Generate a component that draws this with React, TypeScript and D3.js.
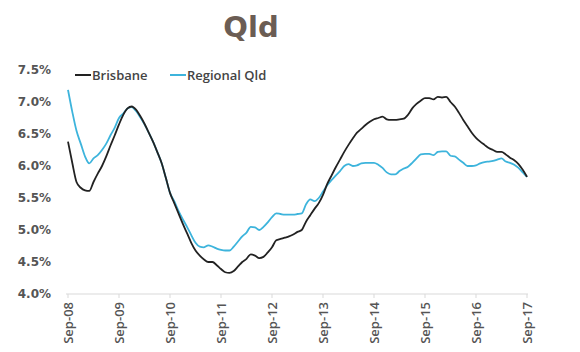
import React, { useEffect, useRef } from 'react';
import * as d3 from 'd3';

// monthly, Sep-08 .. Sep-17
const brisbane = [
  6.38, 6.05, 5.75, 5.66, 5.62, 5.61, 5.75, 5.88, 6.0, 6.15, 6.32, 6.48,
  6.65, 6.8, 6.9, 6.93, 6.88, 6.78, 6.66, 6.52, 6.38, 6.22, 6.05, 5.82,
  5.58, 5.42, 5.26, 5.1, 4.95, 4.8, 4.68, 4.6, 4.54, 4.5, 4.5, 4.45,
  4.39, 4.34, 4.33, 4.36, 4.43, 4.5, 4.55, 4.62, 4.6, 4.56, 4.58, 4.65,
  4.73, 4.84, 4.86, 4.88, 4.9, 4.93, 4.97, 5.0, 5.13, 5.23, 5.33, 5.42,
  5.55, 5.72, 5.85, 5.98, 6.1, 6.22, 6.33, 6.43, 6.52, 6.58, 6.64, 6.69,
  6.73, 6.75, 6.77, 6.73, 6.72, 6.72, 6.73, 6.74, 6.8, 6.9, 6.97, 7.02,
  7.06, 7.06, 7.04, 7.08, 7.07, 7.08, 7.0, 6.93, 6.83, 6.72, 6.62, 6.52,
  6.44, 6.38, 6.33, 6.28, 6.25, 6.22, 6.22, 6.18, 6.13, 6.09, 6.03, 5.94,
  5.83,
];
const regional = [
  7.19, 6.85, 6.55, 6.35, 6.15, 6.04, 6.12, 6.17, 6.25, 6.35, 6.48, 6.6,
  6.75, 6.82, 6.9, 6.92, 6.86, 6.76, 6.65, 6.52, 6.38, 6.22, 6.05, 5.82,
  5.58, 5.45, 5.3, 5.17, 5.05, 4.92, 4.8, 4.74, 4.73, 4.76, 4.74, 4.71,
  4.69, 4.68, 4.68, 4.74, 4.82, 4.9, 4.96, 5.05, 5.04, 5.0, 5.05, 5.12,
  5.2, 5.26, 5.25, 5.24, 5.24, 5.24, 5.25, 5.26, 5.4, 5.48, 5.45, 5.5,
  5.6, 5.7, 5.78, 5.85, 5.92, 6.0, 6.03, 6.0, 6.01, 6.04, 6.05, 6.05,
  6.05, 6.02, 5.97, 5.9, 5.87, 5.87, 5.92, 5.96, 5.99, 6.05, 6.12, 6.18,
  6.19, 6.19, 6.17, 6.22, 6.23, 6.23, 6.16, 6.15, 6.1, 6.05, 6.0, 6.0,
  6.01, 6.04, 6.06, 6.07, 6.08, 6.1, 6.12, 6.07, 6.05, 6.02, 5.97, 5.9,
  5.83,
];
const xTicks = ['Sep-08', 'Sep-09', 'Sep-10', 'Sep-11', 'Sep-12', 'Sep-13', 'Sep-14', 'Sep-15', 'Sep-16', 'Sep-17'];
const yTicks = [4.0, 4.5, 5.0, 5.5, 6.0, 6.5, 7.0, 7.5];

const W = 580;
const H = 352;

export default function App() {
  const ref = useRef<SVGSVGElement>(null);

  useEffect(() => {
    const svg = d3.select(ref.current);
    svg.selectAll('*').remove();

    const x = d3.scaleLinear().domain([0, 108]).range([68, 527]);
    const y = d3.scaleLinear().domain([4.0, 7.5]).range([294, 70]);

    svg.append('text')
      .attr('x', 251).attr('y', 37)
      .attr('text-anchor', 'middle')
      .style('font-family', 'DejaVu Sans, sans-serif')
      .style('font-weight', 'bold')
      .style('font-size', '29px')
      .style('fill', '#6b5d54')
      .text('Qld');

    // y labels
    svg.append('g').selectAll('text').data(yTicks).enter().append('text')
      .attr('x', 51)
      .attr('y', d => y(d) + 4)
      .attr('text-anchor', 'end')
      .style('font-family', 'DejaVu Sans, sans-serif')
      .style('font-size', '12px')
      .style('font-weight', 600)
      .style('fill', '#555')
      .text(d => d3.format('.1f')(d) + '%');

    // x axis
    svg.append('line')
      .attr('x1', 66).attr('x2', 528)
      .attr('y1', 294).attr('y2', 294)
      .attr('stroke', '#d9d9d9');

    const xt = svg.append('g').selectAll('g').data(xTicks).enter().append('g')
      .attr('transform', (d, i) => `translate(${x(i * 12)},294)`);
    xt.append('line').attr('y2', 4).attr('stroke', '#d9d9d9');
    xt.append('text')
      .attr('transform', 'rotate(-90)')
      .attr('x', -8)
      .attr('y', 4.5)
      .attr('text-anchor', 'end')
      .style('font-family', 'Open Sans, sans-serif')
      .style('font-size', '13px')
      .style('font-weight', 600)
      .style('fill', '#555')
      .text(d => d);

    const line = d3.line<number>()
      .x((d, i) => x(i))
      .y(d => y(d))
      .curve(d3.curveMonotoneX);

    svg.append('path').datum(regional)
      .attr('d', line)
      .attr('fill', 'none')
      .attr('stroke', '#3db4dc')
      .attr('stroke-width', 1.8);

    svg.append('path').datum(brisbane)
      .attr('d', line)
      .attr('fill', 'none')
      .attr('stroke', '#222')
      .attr('stroke-width', 1.8);

    // legend
    const legend = [
      { name: 'Brisbane', color: '#222', x: 75 },
      { name: 'Regional Qld', color: '#3db4dc', x: 170 },
    ];
    const lg = svg.append('g').selectAll('g').data(legend).enter().append('g')
      .attr('transform', d => `translate(${d.x},75)`);
    lg.append('line').attr('x1', 0).attr('x2', 16)
      .attr('stroke', d => d.color).attr('stroke-width', 2);
    lg.append('text')
      .attr('x', 17).attr('y', 4.5)
      .style('font-family', 'Open Sans, sans-serif')
      .style('font-size', '13px')
      .style('font-weight', 600)
      .style('fill', '#444')
      .text(d => d.name);
  }, []);

  return (
    <svg ref={ref} width={W} height={H}
      style={{ position: 'absolute', left: 0, top: 0, background: '#fff' }} />
  );
}
